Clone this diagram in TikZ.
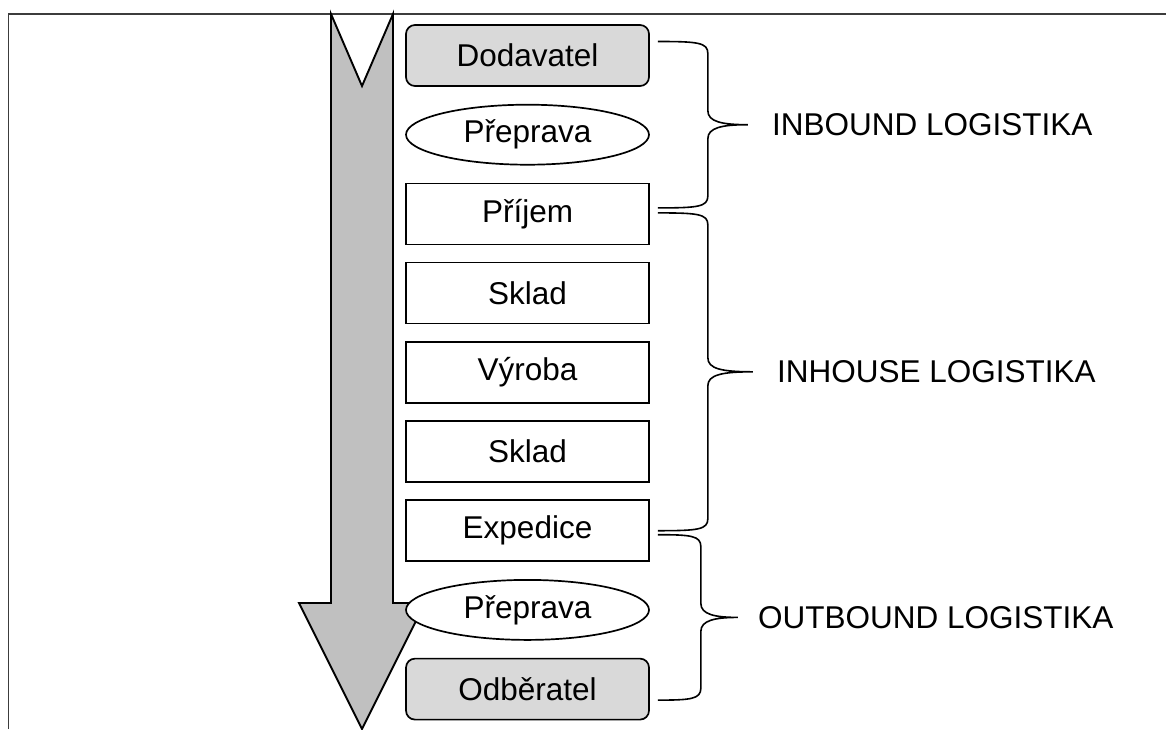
\documentclass[tikz,border=0pt]{standalone}
\usepackage{fontspec}
\setmainfont{Liberation Sans}
\usetikzlibrary{shapes.geometric,calc}

\definecolor{flowgray}{RGB}{192,192,192}
\definecolor{partnergray}{RGB}{217,217,217}
\definecolor{framegray}{RGB}{60,60,60}

% curly brace from #1 (top) to #2 (bottom); #3 = stem offset, #4 = tip offset, #5 = tip name
\newcommand{\logbrace}[5]{%
  \draw[bracepen] let \p1=(#1), \p2=(#2), \p3=($(#1)!0.5!(#2)$) in
    (\p1) .. controls (\x1+#3-10pt,\y1) and (\x1+#3,\y1-1pt) .. (\x1+#3,\y1-12pt)
    -- (\x1+#3,\y3+14pt) .. controls (\x1+#3,\y3+3pt) and (\x1+#3+14pt,\y3) .. (\x1+#4,\y3)
    coordinate (#5)
    .. controls (\x1+#3+14pt,\y3) and (\x1+#3,\y3-3pt) .. (\x1+#3,\y3-14pt)
    -- (\x1+#3,\y2+12pt) .. controls (\x1+#3,\y2+1pt) and (\x1+#3-10pt,\y2) .. (\p2);
}

\begin{document}
\begin{tikzpicture}[x=1pt,y=-1pt,
  stepbox/.style={draw=black, line width=1.7pt, fill=white,
    minimum width=243pt, minimum height=61pt, inner sep=0pt,
    font=\fontsize{31.5}{38}\selectfont},
  partner/.style={stepbox, rounded corners=9pt, fill=partnergray},
  transport/.style={stepbox, ellipse, minimum height=60pt},
  bracepen/.style={draw=black, line width=1.6pt},
  phase/.style={anchor=west, inner sep=0pt, font=\fontsize{31.5}{38}\selectfont},
  flow/.style={draw=black, line width=1.9pt, fill=flowgray, line join=miter},
  framepen/.style={draw=framegray, line width=1.6pt}
]
\useasboundingbox (0,0) rectangle (1166,729);

% page frame
\draw[framepen] (8.5,729) -- (8.5,14) -- (1166,14);

% flow arrow
\draw[flow] (331,14) -- (362,86) -- (393,14) -- (393,603) -- (425,603)
  -- (362,729) -- (299,603) -- (331,603) -- cycle;

% chain of stages
\node[partner]   (dod)  at (527.5,55.5)  {Dodavatel};
\node[transport] (pr1)  at (527.5,134.7) {Přeprava};
\node[stepbox]   (pri)  at (527.5,213.9) {Příjem};
\node[stepbox]   (sk1)  at (527.5,293.1) {Sklad};
\node[stepbox]   (vyr)  at (527.5,372.3) {Výroba};
\node[stepbox]   (sk2)  at (527.5,451.5) {Sklad};
\node[stepbox]   (exp)  at (527.5,530.7) {Expedice};
\node[transport] (pr2)  at (527.5,609.9) {Přeprava};
\node[partner]   (odb)  at (527.5,689.1) {Odběratel};

% brace end points
\coordinate (b1top) at ($(dod.east)+(8,-14)$);
\coordinate (b1bot) at ($(pri.east)+(8,-6)$);
\coordinate (b2top) at ($(pri.east)+(8,-1)$);
\coordinate (b2bot) at ($(exp.east)+(8,0)$);
\coordinate (b3top) at ($(exp.east)+(8,4)$);
\coordinate (b3bot) at ($(odb.east)+(8,11)$);

\logbrace{b1top}{b1bot}{50pt}{90pt}{tip1}
\logbrace{b2top}{b2bot}{50pt}{95pt}{tip2}
\logbrace{b3top}{b3bot}{43pt}{80pt}{tip3}

\node[phase] (inb) at ($(tip1)+(24,0)$) {INBOUND LOGISTIKA};
\node[phase] (inh) at ($(tip2)+(24,0)$) {INHOUSE LOGISTIKA};
\node[phase] (outb) at ($(tip3)+(20,0)$) {OUTBOUND LOGISTIKA};
\end{tikzpicture}
\end{document}
